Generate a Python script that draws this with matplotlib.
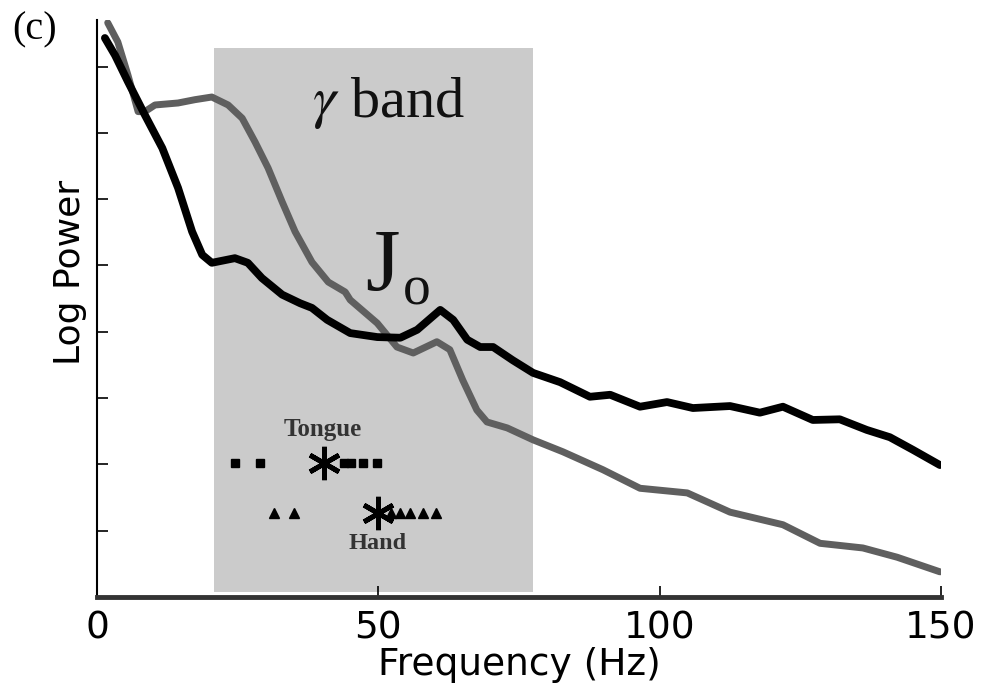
import matplotlib.pyplot as plt

plt.rcParams['mathtext.fontset'] = 'stix'

# Krzywe widma mocy
freq_czarna = [1.4, 3.2, 5.5, 8.5, 11.6, 14.4, 16.9, 18.7, 20.4, 24.5, 26.8, 29.3,
               32.9, 36.1, 38.2, 40.9, 45.0, 49.8, 53.9, 56.9, 61.0, 63.3, 65.8,
               68.1, 70.4, 73.9, 77.5, 82.3, 87.6, 91.2, 96.5, 101.3, 105.9,
               112.5, 117.8, 121.9, 127.2, 132.0, 136.8, 140.9, 145.0, 149.8]
moc_czarna = [8.43, 8.17, 7.77, 7.27, 6.77, 6.17, 5.51, 5.16, 5.04, 5.11, 5.04, 4.81,
              4.56, 4.43, 4.36, 4.18, 3.98, 3.92, 3.91, 4.03, 4.33, 4.18, 3.88,
              3.77, 3.77, 3.57, 3.38, 3.24, 3.02, 3.05, 2.87, 2.94, 2.85,
              2.88, 2.78, 2.87, 2.67, 2.68, 2.52, 2.41, 2.22, 1.99]

freq_szara = [1.9, 3.7, 5.5, 7.3, 8.5, 10.3, 14.4, 17.4, 20.4, 23.3, 25.8, 28.1,
              30.4, 32.9, 35.2, 38.2, 41.1, 44.1, 45.0, 49.8, 53.3, 56.2, 60.4,
              62.7, 65.0, 67.5, 69.3, 72.9, 77.5, 82.8, 89.9, 96.5, 104.9,
              112.5, 121.9, 128.5, 136.1, 142.2, 149.8]
moc_szara = [8.66, 8.37, 7.87, 7.32, 7.32, 7.42, 7.45, 7.50, 7.54, 7.42, 7.22, 6.86,
             6.47, 5.96, 5.51, 5.05, 4.75, 4.60, 4.48, 4.13, 3.77, 3.68, 3.85,
             3.73, 3.27, 2.82, 2.64, 2.55, 2.37, 2.19, 1.92, 1.64, 1.57,
             1.28, 1.09, 0.81, 0.74, 0.60, 0.38]

# Pasmo gamma
gamma_od, gamma_do = 20.8, 77.5
gamma_dol, gamma_gora = 0.08, 8.28

# Znaczniki: jezyk (kwadraty) i dlon (trojkaty)
jezyk_x = [24.5, 29.0, 43.9, 45.2, 47.3, 49.8]
jezyk_gwiazdka = 40.3
jezyk_y = 2.02
dlon_x = [31.5, 35.0, 52.2, 53.9, 55.6, 57.9, 60.2]
dlon_gwiazdka = 50.0
dlon_y = 1.27

xticks = [0, 50, 100, 150]
yticks = [1, 2, 3, 4, 5, 6, 7, 8]

fig = plt.figure(figsize=(9.82, 6.86), dpi=100)
ax = fig.add_axes([0.0988, 0.1297, 0.8595, 0.841])

ax.fill_between([gamma_od, gamma_do], gamma_dol, gamma_gora, color='#cbcbcb', lw=0, zorder=0)

ax.plot(freq_czarna, moc_czarna, color='black', lw=5.6, solid_joinstyle='round',
        solid_capstyle='round', zorder=3)
ax.plot(freq_szara, moc_szara, color='#5f5f5f', lw=5.0, solid_joinstyle='round',
        solid_capstyle='round', zorder=2)

# Znaczniki
ax.plot(jezyk_x, [jezyk_y] * len(jezyk_x), 's', color='black', ms=6, zorder=4)
ax.plot([jezyk_gwiazdka], [jezyk_y], marker=(6, 2, 0), color='black', ms=24, mew=3.5, zorder=4)
ax.plot(dlon_x, [dlon_y] * len(dlon_x), '^', color='black', ms=6.5, zorder=4)
ax.plot([dlon_gwiazdka], [dlon_y], marker=(6, 2, 0), color='black', ms=24, mew=3.5, zorder=4)
ax.text(40.2, jezyk_y + 0.5, 'Tongue', family='Liberation Serif', fontweight='bold',
        fontsize=18, color='#333333', ha='center', va='center')
ax.text(49.8, dlon_y - 0.46, 'Hand', family='Liberation Serif', fontweight='bold',
        fontsize=17.5, color='#333333', ha='center', va='center')

ax.text(51.8, 7.45, '$\\gamma$ band', family='Liberation Serif', fontsize=42,
        ha='center', va='center', color='#111111')
ax.text(50.8, 4.96, 'J', family='Liberation Serif', fontsize=64,
        ha='center', va='center', color='#111111')
ax.text(56.9, 4.62, 'o', family='Liberation Serif', fontsize=40,
        ha='center', va='center', color='#111111')

ax.set_xlim(0, 150)
ax.set_ylim(0, 8.7)
ax.set_xticks(xticks)
ax.set_yticks(yticks)
ax.set_yticklabels([])
ax.tick_params(axis='both', direction='in', length=8, width=1.2, colors='black')
ax.tick_params(axis='x', labelsize=27, pad=10)

for s in ['top', 'right']:
    ax.spines[s].set_visible(False)
ax.spines['left'].set_linewidth(1.5)
ax.spines['bottom'].set_linewidth(3.5)
ax.spines['bottom'].set_color('#333333')

ax.set_xlabel('Frequency (Hz)', fontsize=27, labelpad=0)
ax.set_ylabel('Log Power', fontsize=26)
ax.yaxis.set_label_coords(-0.012, 0.563)

fig.text(0.012, 0.984, '(c)', family='Liberation Serif', fontsize=29, va='top', ha='left')

fig.savefig('out.png', dpi=100)
plt.close(fig)
